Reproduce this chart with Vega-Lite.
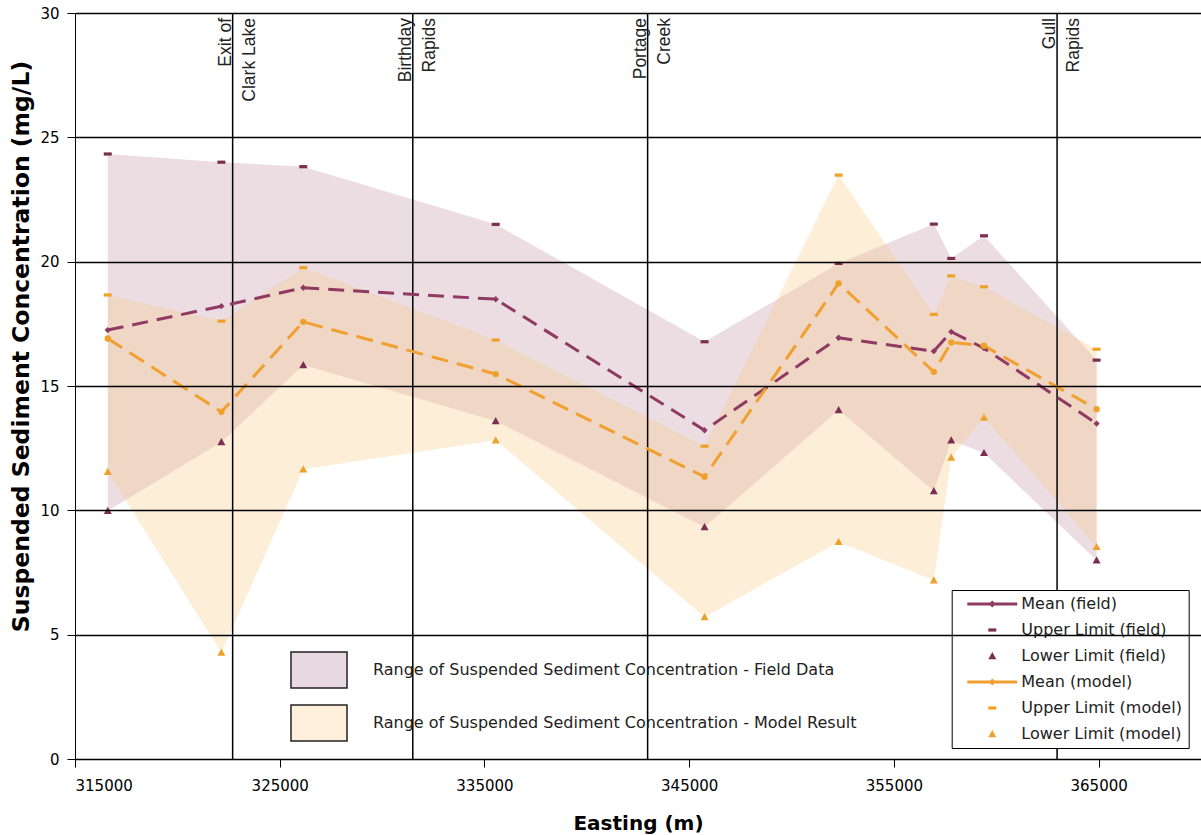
{
  "$schema": "https://vega.github.io/schema/vega-lite/v6.json",
  "width": 1126,
  "height": 746,
  "autosize": {"type": "none"},
  "padding": {"left": 75, "top": 13, "right": 0, "bottom": 76},
  "background": "white",
  "config": {
    "view": {"stroke": null},
    "axis": {
      "domainColor": "black",
      "tickColor": "black",
      "labelColor": "black",
      "titleColor": "black",
      "labelFont": "DejaVu Sans",
      "titleFont": "DejaVu Sans",
      "titleFontWeight": "bold"
    }
  },
  "datasets": {
    "stations": [
      {"e": 316600, "fu": 24.33, "fm": 17.25, "fl": 9.98, "mu": 18.66, "mm": 16.91, "ml": 11.55},
      {"e": 322150, "fu": 24.0, "fm": 18.21, "fl": 12.75, "mu": 17.61, "mm": 13.96, "ml": 4.28},
      {"e": 326150, "fu": 23.82, "fm": 18.95, "fl": 15.84, "mu": 19.76, "mm": 17.58, "ml": 11.65},
      {"e": 335550, "fu": 21.5, "fm": 18.49, "fl": 13.59, "mu": 16.85, "mm": 15.48, "ml": 12.82},
      {"e": 345750, "fu": 16.78, "fm": 13.22, "fl": 9.33, "mu": 12.58, "mm": 11.35, "ml": 5.71},
      {"e": 352300, "fu": 19.93, "fm": 16.94, "fl": 14.03, "mu": 23.48, "mm": 19.13, "ml": 8.73},
      {"e": 356950, "fu": 21.51, "fm": 16.4, "fl": 10.78, "mu": 17.88, "mm": 15.57, "ml": 7.19},
      {"e": 357800, "fu": 20.13, "fm": 17.18, "fl": 12.82, "mu": 19.43, "mm": 16.75, "ml": 12.12},
      {"e": 359400, "fu": 21.04, "fm": 16.52, "fl": 12.31, "mu": 18.99, "mm": 16.62, "ml": 13.73},
      {"e": 364900, "fu": 16.04, "fm": 13.49, "fl": 7.99, "mu": 16.48, "mm": 14.07, "ml": 8.53}
    ],
    "locations": [
      {"e": 322700, "l1": "Exit of", "l2": "Clark Lake"},
      {"e": 331500, "l1": "Birthday", "l2": "Rapids"},
      {"e": 342970, "l1": "Portage", "l2": "Creek"},
      {"e": 362970, "l1": "Gull", "l2": "Rapids"}
    ],
    "series": [
      {"series": "Mean (field)"},
      {"series": "Upper Limit (field)"},
      {"series": "Lower Limit (field)"},
      {"series": "Mean (model)"},
      {"series": "Upper Limit (model)"},
      {"series": "Lower Limit (model)"}
    ],
    "bands": [
      {"band": "Range of Suspended Sediment Concentration - Field Data"},
      {"band": "Range of Suspended Sediment Concentration - Model Result"}
    ]
  },
  "layer": [
    {
      "data": {"name": "stations"},
      "mark": {"type": "area", "color": "#ecdde3", "opacity": 1},
      "encoding": {
        "x": {
          "field": "e", "type": "quantitative",
          "scale": {"domain": [315000, 370000], "nice": false, "zero": false},
          "axis": {
            "title": "Easting (m)",
            "values": [315000, 325000, 335000, 345000, 355000, 365000],
            "format": "d",
            "grid": false,
            "tickSize": 8,
            "labelFontSize": 15,
            "labelPadding": 11,
            "titleFontSize": 20,
            "titlePadding": 20,
            "zindex": 1
          }
        },
        "y": {
          "field": "fl", "type": "quantitative",
          "scale": {"domain": [0, 30], "nice": false, "zero": false},
          "axis": {
            "title": "Suspended Sediment Concentration (mg/L)",
            "values": [0, 5, 10, 15, 20, 25, 30],
            "grid": true,
            "gridColor": "black",
            "gridWidth": 1.3,
            "gridOpacity": 1,
            "tickSize": 8,
            "labelFontSize": 15,
            "labelPadding": 8,
            "titleFontSize": 23.5,
            "titlePadding": 6,
            "titleY": 333,
            "zindex": 1
          }
        },
        "y2": {"field": "fu"}
      }
    },
    {
      "data": {"name": "stations"},
      "mark": {"type": "area", "color": "#f8c67d", "opacity": 0.3},
      "encoding": {
        "x": {"field": "e", "type": "quantitative"},
        "y": {"field": "ml", "type": "quantitative"},
        "y2": {"field": "mu"}
      }
    },
    {
      "data": {"name": "locations"},
      "mark": {"type": "rule", "color": "black", "strokeWidth": 1.5},
      "encoding": {
        "x": {"field": "e", "type": "quantitative"}
      }
    },
    {
      "data": {"name": "stations"},
      "mark": {"type": "line", "color": "#8f3a63", "strokeWidth": 3, "strokeDash": [16, 9]},
      "encoding": {
        "x": {"field": "e", "type": "quantitative"},
        "y": {"field": "fm", "type": "quantitative"}
      }
    },
    {
      "data": {"name": "stations"},
      "mark": {"type": "line", "color": "#f0a030", "strokeWidth": 3, "strokeDash": [17, 9]},
      "encoding": {
        "x": {"field": "e", "type": "quantitative"},
        "y": {"field": "mm", "type": "quantitative"}
      }
    },
    {
      "data": {"name": "stations"},
      "mark": {"type": "point", "filled": true, "shape": "M-1,-0.4H1V0.4H-1Z", "size": 64, "color": "#7b2d52", "opacity": 1},
      "encoding": {
        "x": {"field": "e", "type": "quantitative"},
        "y": {"field": "fu", "type": "quantitative"}
      }
    },
    {
      "data": {"name": "stations"},
      "mark": {"type": "point", "filled": true, "shape": "diamond", "size": 40, "color": "#8f3a63", "opacity": 1},
      "encoding": {
        "x": {"field": "e", "type": "quantitative"},
        "y": {"field": "fm", "type": "quantitative"}
      }
    },
    {
      "data": {"name": "stations"},
      "mark": {"type": "point", "filled": true, "shape": "M0,-1L1,0.8H-1Z", "size": 64, "color": "#7b2d52", "opacity": 1},
      "encoding": {
        "x": {"field": "e", "type": "quantitative"},
        "y": {"field": "fl", "type": "quantitative"}
      }
    },
    {
      "data": {"name": "stations"},
      "mark": {"type": "point", "filled": true, "shape": "M-1,-0.4H1V0.4H-1Z", "size": 64, "color": "#eea22a", "opacity": 1},
      "encoding": {
        "x": {"field": "e", "type": "quantitative"},
        "y": {"field": "mu", "type": "quantitative"}
      }
    },
    {
      "data": {"name": "stations"},
      "mark": {"type": "point", "filled": true, "shape": "circle", "size": 40, "color": "#eea22a", "opacity": 1},
      "encoding": {
        "x": {"field": "e", "type": "quantitative"},
        "y": {"field": "mm", "type": "quantitative"}
      }
    },
    {
      "data": {"name": "stations"},
      "mark": {"type": "point", "filled": true, "shape": "M0,-1L1,0.8H-1Z", "size": 64, "color": "#eea22a", "opacity": 1},
      "encoding": {
        "x": {"field": "e", "type": "quantitative"},
        "y": {"field": "ml", "type": "quantitative"}
      }
    },
    {
      "data": {"name": "locations"},
      "mark": {"type": "text", "angle": 270, "align": "right", "baseline": "alphabetic", "dx": -5, "dy": -2, "font": "Liberation Sans", "fontSize": 17.5, "color": "#222"},
      "encoding": {
        "x": {"field": "e", "type": "quantitative"},
        "y": {"datum": 30},
        "text": {"field": "l1"}
      }
    },
    {
      "data": {"name": "locations"},
      "mark": {"type": "text", "angle": 270, "align": "right", "baseline": "top", "dx": -5, "dy": 8, "font": "Liberation Sans", "fontSize": 17.5, "color": "#222"},
      "encoding": {
        "x": {"field": "e", "type": "quantitative"},
        "y": {"datum": 30},
        "text": {"field": "l2"}
      }
    },
    {
      "data": {"name": "series"},
      "transform": [{"filter": "false"}],
      "mark": {"type": "point", "filled": true, "opacity": 1},
      "encoding": {
        "color": {
          "field": "series", "type": "nominal",
          "scale": {
            "domain": ["Mean (field)", "Upper Limit (field)", "Lower Limit (field)", "Mean (model)", "Upper Limit (model)", "Lower Limit (model)"],
            "range": ["#8f3a63", "#7b2d52", "#7b2d52", "#f0a030", "#eea22a", "#eea22a"]
          },
          "legend": {
            "orient": "none", "legendX": 876.7, "legendY": 577, "title": null,
            "padding": 6, "strokeColor": "black", "fillColor": "white",
            "symbolSize": 64, "symbolStrokeWidth": 0, "symbolOffset": 26.6,
            "labelOffset": 21, "labelLimit": 0, "labelFont": "DejaVu Sans", "labelFontSize": 16, "labelColor": "#222",
            "rowPadding": 10, "symbolOpacity": 1
          }
        },
        "shape": {
          "field": "series", "type": "nominal",
          "scale": {
            "domain": ["Mean (field)", "Upper Limit (field)", "Lower Limit (field)", "Mean (model)", "Upper Limit (model)", "Lower Limit (model)"],
            "range": [
              "M-6.25,-0.35H6.25V0.35H-6.25ZM0,-0.9L0.9,0L0,0.9L-0.9,0Z",
              "M-1,-0.4H1V0.4H-1Z",
              "M0,-1L1,0.8H-1Z",
              "M-6.25,-0.35H6.25V0.35H-6.25ZM0,-0.9L0.9,0L0,0.9L-0.9,0Z",
              "M-1,-0.4H1V0.4H-1Z",
              "M0,-1L1,0.8H-1Z"
            ]
          },
          "legend": {
            "orient": "none", "legendX": 876.7, "legendY": 577, "title": null,
            "padding": 6, "strokeColor": "black", "fillColor": "white",
            "symbolSize": 64, "symbolStrokeWidth": 0, "symbolOffset": 26.6,
            "labelOffset": 21, "labelLimit": 0, "labelFont": "DejaVu Sans", "labelFontSize": 16, "labelColor": "#222",
            "rowPadding": 10, "symbolOpacity": 1
          }
        }
      }
    },
    {
      "data": {"name": "bands"},
      "transform": [{"filter": "false"}],
      "mark": {"type": "point", "filled": true, "opacity": 1, "stroke": "#222", "strokeWidth": 1.5},
      "encoding": {
        "fill": {
          "field": "band", "type": "nominal",
          "scale": {
            "domain": ["Range of Suspended Sediment Concentration - Field Data", "Range of Suspended Sediment Concentration - Model Result"],
            "range": ["#e9dae1", "#fdefd9"]
          },
          "legend": {
            "orient": "none", "legendX": 215, "legendY": 638, "title": null,
            "padding": 0,
            "symbolType": "M-1.556,-1H1.556V1H-1.556Z",
            "symbolSize": 1296, "symbolStrokeColor": "#222", "symbolStrokeWidth": 1.5,
            "symbolOffset": 10, "labelOffset": 35, "labelLimit": 0,
            "labelFont": "DejaVu Sans", "labelFontSize": 16, "labelColor": "#222",
            "rowPadding": 11, "symbolOpacity": 1
          }
        }
      }
    }
  ]
}
